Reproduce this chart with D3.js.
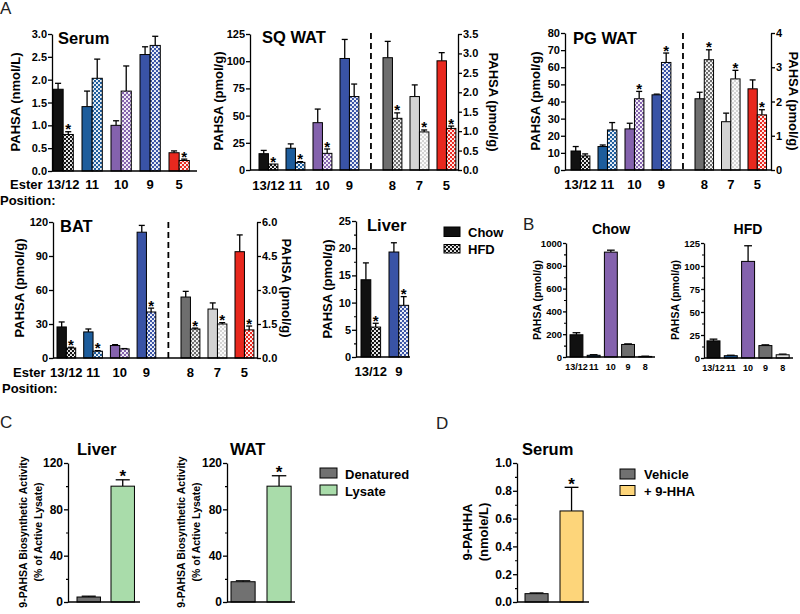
<!DOCTYPE html>
<html><head><meta charset="utf-8">
<script src="https://cdn.jsdelivr.net/npm/d3@7"></script>
<style>body{margin:0;background:#fff}svg{display:block}</style>
</head><body>
<svg id="chart" width="800" height="614"></svg>
<script>
// ---------------- DATA ----------------
const serumCats = ["13/12","11","10","9","5"];
const serumChow = [1.79, 1.41, 1.00, 2.55, 0.40];
const serumChowErr = [0.13, 0.34, 0.10, 0.17, 0.04];
const serumHfd = [0.80, 2.03, 1.75, 2.75, 0.23];
const serumHfdErr = [0.06, 0.42, 0.55, 0.20, 0.03];
const serumStars = [1,0,0,0,1];

const leftCats = ["13/12","11","10","9"];
const rightCats = ["8","7","5"];

const sqChowL = [15, 20, 43.5, 102.5];
const sqChowErrL = [3, 4, 12.5, 17.5];
const sqHfdL = [5.5, 7, 15.3, 67.5];
const sqHfdErrL = [0, 0.7, 4, 11.5];
const sqStarsL = [1,1,1,0];
const sqChowR = [2.89, 1.89, 2.81];
const sqChowErrR = [0.42, 0.30, 0.21];
const sqHfdR = [1.33, 0.98, 1.07];
const sqHfdErrR = [0.14, 0.05, 0.06];
const sqStarsR = [1,1,1];

const pgChowL = [11.1, 13.7, 24, 43.9];
const pgChowErrL = [2.6, 0.9, 3.3, 0.4];
const pgHfdL = [8.2, 23.4, 41.6, 62.8];
const pgHfdErrL = [1.2, 4.3, 4.3, 5.5];
const pgStarsL = [0,0,1,1];
const pgChowR = [2.08, 1.41, 2.37];
const pgChowErrR = [0.19, 0.25, 0.26];
const pgHfdR = [3.22, 2.66, 1.61];
const pgHfdErrR = [0.29, 0.25, 0.15];
const pgStarsR = [1,1,1];

const batChowL = [27.4, 23, 11, 111];
const batChowErrL = [4.4, 2.6, 0.8, 6];
const batHfdL = [8.8, 6, 8, 40.6];
const batHfdErrL = [0.7, 0.5, 0.3, 3.4];
const batStarsL = [1,1,0,1];
const batChowR = [2.69, 2.16, 4.69];
const batChowErrR = [0.25, 0.27, 0.74];
const batHfdR = [1.28, 1.50, 1.24];
const batHfdErrR = [0.04, 0.06, 0.17];
const batStarsR = [1,1,1];

const liverCats = ["13/12","9"];
const liverChow = [14.2, 19.3];
const liverChowErr = [3.1, 1.7];
const liverHfd = [5.5, 9.5];
const liverHfdErr = [0.7, 1.6];
const liverStars = [1,1];

const bCats = ["13/12","11","10","9","8"];
const bChow = [195, 15, 920, 110, 5];
const bChowErr = [18, 5, 17, 5, 2];
const bHfd = [18.6, 2.5, 105, 13.5, 3.5];
const bHfdErr = [1.9, 0.5, 17, 0.8, 0.7];
const bColors = ["#111111","#1d5d9c","#8462ad","#6e6e6e","#e2e2e2"];

const cCats = ["Denatured","Lysate"];
const cLiver = [4.3, 100];
const cLiverErr = [0.7, 5.5];
const cWat = [17.5, 100];
const cWatErr = [0.8, 9];
const cStars = [0,1];
const cColors = ["#717171","#a9dcaa"];

const dCats = ["Vehicle","+ 9-HHA"];
const dVals = [0.06, 0.655];
const dErr = [0.005, 0.17];
const dStars = [0,1];
const dColors = ["#717171","#fdd57a"];

const catColors = {"13/12":"#111111","11":"#1d5d9c","10":"#8462ad","9":"#3953a6","8":"#6e6e6e","7":"#d3d3d3","5":"#e8281e"};

// ---------------- SETUP ----------------
const FONT = "'Liberation Sans', Arial, Helvetica, sans-serif";
const svg = d3.select("#chart").attr("font-family", FONT);
svg.append("rect").attr("width",800).attr("height",614).attr("fill","#fff");
const defs = svg.append("defs");
const patIds = {};
Object.keys(catColors).forEach((k,i)=>{
  const id = "pat" + i; patIds[k] = id;
  const p = defs.append("pattern").attr("id",id).attr("patternUnits","userSpaceOnUse")
    .attr("width",4).attr("height",4);
  p.append("rect").attr("width",4).attr("height",4).attr("fill",catColors[k]);
  p.append("circle").attr("cx",1).attr("cy",1).attr("r",1.1).attr("fill","#fff");
  p.append("circle").attr("cx",3).attr("cy",3).attr("r",1.1).attr("fill","#fff");
});

function bandAt(domain, start, step, pi, po){
  const r0 = start - po*step;
  return d3.scaleBand().domain(domain).range([r0, r0 + step*(domain.length - pi + 2*po)])
    .paddingInner(pi).paddingOuter(po);
}
function styleAxis(a, fs){
  a.select(".domain").attr("stroke","#000").attr("stroke-width",1.3);
  a.selectAll(".tick line").attr("stroke","#000").attr("stroke-width",1.3);
  a.selectAll(".tick text").attr("fill","#000").attr("font-size",fs)
    .attr("font-weight","bold").attr("font-family",FONT);
}
function yAxis(x0, y, o){
  const mk = () => o.side==="right" ? d3.axisRight(y) : d3.axisLeft(y);
  if (o.minor !== undefined){
    const m = svg.append("g").attr("transform",`translate(${x0},0)`)
      .call(mk().tickValues(d3.range(o.minor, o.max, o.step)).tickSize(2).tickFormat(""));
    m.select(".domain").remove();
    m.selectAll("line").attr("stroke","#000").attr("stroke-width",1.1);
  }
  const a = svg.append("g").attr("transform",`translate(${x0},0)`)
    .call(mk().tickValues(d3.range(0, o.max + o.step/2, o.step)).tickFormat(o.fmt)
      .tickSize(o.ts || 4).tickSizeOuter(0).tickPadding(o.pad === undefined ? 1 : o.pad));
  styleAxis(a, o.fs);
}
function xLine(x0, x1, yv){
  svg.append("line").attr("x1",x0).attr("x2",x1).attr("y1",yv).attr("y2",yv)
    .attr("stroke","#000").attr("stroke-width",1.3);
}
function drawBars(rows, xf, bw, y, fillf, starSize){
  rows.forEach(r=>{
    const x0 = xf(r), cx = x0 + bw/2;
    if (r.e > 0){
      const cw = Math.max(6, bw*0.6);
      svg.append("line").attr("x1",cx).attr("x2",cx).attr("y1",y(r.v)).attr("y2",y(r.v+r.e))
        .attr("stroke","#000").attr("stroke-width",1.3);
      svg.append("line").attr("x1",cx-cw/2).attr("x2",cx+cw/2).attr("y1",y(r.v+r.e)).attr("y2",y(r.v+r.e))
        .attr("stroke","#000").attr("stroke-width",1.3);
    }
    svg.append("rect").attr("x",x0).attr("y",y(r.v)).attr("width",bw)
      .attr("height",y(0)-y(r.v)).attr("fill",fillf(r)).attr("stroke","#000").attr("stroke-width",1);
    if (r.s){
      svg.append("text").attr("x",cx).attr("y",y(r.v+r.e)+2.5).attr("text-anchor","middle")
        .attr("font-size",starSize||15).attr("font-weight","bold").text("*");
    }
  });
}
function drawPairs(x, y, cats, chow, chowErr, hfd, hfdErr, stars){
  const inner = d3.scaleBand().domain(["Chow","HFD"]).range([0, x.bandwidth()]);
  const rows = cats.flatMap((c,i)=>[
    {c, d:"Chow", v:chow[i], e:chowErr[i], s:0},
    {c, d:"HFD", v:hfd[i], e:hfdErr[i], s:stars[i]}]);
  drawBars(rows, r=>x(r.c)+inner(r.d), inner.bandwidth(), y,
    r=> r.d==="Chow" ? catColors[r.c] : `url(#${patIds[r.c]})`);
}
function catLabels(x, cats, yb, fs){
  cats.forEach(c=>{
    svg.append("text").attr("x", x(c)+x.bandwidth()/2).attr("y", yb).attr("text-anchor","middle")
      .attr("font-size",fs).attr("font-weight","bold").text(c);
  });
}
function text(x, y, s, fs, opts){
  opts = opts || {};
  return svg.append("text").attr("x",x).attr("y",y).attr("font-size",fs)
    .attr("font-weight", opts.weight || "bold").attr("text-anchor", opts.anchor || "start")
    .attr("fill", opts.fill || "#000").text(s);
}
function vLabel(cx, cy, lines, fs, rot, gap){
  const g = svg.append("g").attr("transform",`translate(${cx},${cy}) rotate(${rot})`);
  const n = lines.length;
  lines.forEach((s,i)=>{
    const off = (i - (n-1)/2) * gap * (rot < 0 ? 1 : -1);
    g.append("text").attr("x",0).attr("y", off).attr("dy","0.35em").attr("text-anchor","middle")
      .attr("font-size",fs).attr("font-weight","bold").text(s);
  });
}
function dashed(xv, y0, y1){
  svg.append("line").attr("x1",xv).attr("x2",xv).attr("y1",y0).attr("y2",y1)
    .attr("stroke","#000").attr("stroke-width",1.8).attr("stroke-dasharray","6,4");
}
const f1 = d3.format(".1f"), f0 = d3.format("d");

// ---------------- PANEL LETTERS ----------------
text(0, 14, "A", 17, {weight:"normal", fill:"#222"});
text(523, 230, "B", 17, {weight:"normal", fill:"#222"});
text(0, 428, "C", 17, {weight:"normal", fill:"#222"});
text(436, 429, "D", 17, {weight:"normal", fill:"#222"});

// ---------------- SERUM ----------------
{
  const y = d3.scaleLinear().domain([0,3]).range([171,34]);
  const x = bandAt(serumCats, 53, 29, 0.3, 0.15);
  drawPairs(x, y, serumCats, serumChow, serumChowErr, serumHfd, serumHfdErr, serumStars);
  xLine(52, 197, y(0));
  yAxis(52, y, {max:3, step:0.5, fmt:f1, fs:11});
  catLabels(x, serumCats, 189, 13);
  text(10, 189, "Ester", 13);
  text(0, 205, "Position:", 13);
  text(58, 44, "Serum", 16.5);
  vLabel(15, 102, ["PAHSA (nmol/L)"], 13, -90, 0);
}
// ---------------- SQ WAT ----------------
{
  const y = d3.scaleLinear().domain([0,125]).range([170,34]);
  const y2 = d3.scaleLinear().domain([0,3.5]).range([170,34]);
  const xl = bandAt(leftCats, 259, 27, 0.3, 0.15);
  const xr = bandAt(rightCats, 383, 27, 0.3, 0.15);
  drawPairs(xl, y, leftCats, sqChowL, sqChowErrL, sqHfdL, sqHfdErrL, sqStarsL);
  drawPairs(xr, y2, rightCats, sqChowR, sqChowErrR, sqHfdR, sqHfdErrR, sqStarsR);
  xLine(250, 458, y(0));
  yAxis(250, y, {max:125, step:25, fmt:f0, fs:11});
  yAxis(458, y2, {max:3.5, step:0.5, fmt:f1, fs:11, side:"right"});
  dashed((xl.range()[1] + xr.range()[0])/2, 33, 170);
  catLabels(xl, leftCats, 190, 13); catLabels(xr, rightCats, 190, 13);
  text(262, 43, "SQ WAT", 16.5);
  vLabel(218, 101, ["PAHSA (pmol/g)"], 13, -90, 0);
  vLabel(494, 102, ["PAHSA (pmol/g)"], 13, 90, 0);
}
// ---------------- PG WAT ----------------
{
  const y = d3.scaleLinear().domain([0,80]).range([170,33]);
  const y2 = d3.scaleLinear().domain([0,4]).range([170,33]);
  const xl = bandAt(leftCats, 571, 27, 0.3, 0.15);
  const xr = bandAt(rightCats, 695, 26.5, 0.3, 0.15);
  drawPairs(xl, y, leftCats, pgChowL, pgChowErrL, pgHfdL, pgHfdErrL, pgStarsL);
  drawPairs(xr, y2, rightCats, pgChowR, pgChowErrR, pgHfdR, pgHfdErrR, pgStarsR);
  xLine(565, 771, y(0));
  yAxis(565, y, {max:80, step:10, fmt:f0, fs:11});
  yAxis(771, y2, {max:4, step:1, fmt:f0, fs:11, side:"right"});
  dashed((xl.range()[1] + xr.range()[0])/2, 33, 170);
  catLabels(xl, leftCats, 189, 13); catLabels(xr, rightCats, 189, 13);
  text(573, 44, "PG WAT", 16.5);
  vLabel(535, 101, ["PAHSA (pmol/g)"], 13, -90, 0);
  vLabel(794, 101, ["PAHSA (pmol/g)"], 13, 90, 0);
}
// ---------------- BAT ----------------
{
  const y = d3.scaleLinear().domain([0,120]).range([358,222]);
  const y2 = d3.scaleLinear().domain([0,6]).range([358,222]);
  const xl = bandAt(leftCats, 57, 26.7, 0.3, 0.15);
  const xr = bandAt(rightCats, 181, 27, 0.3, 0.15);
  drawPairs(xl, y, leftCats, batChowL, batChowErrL, batHfdL, batHfdErrL, batStarsL);
  drawPairs(xr, y2, rightCats, batChowR, batChowErrR, batHfdR, batHfdErrR, batStarsR);
  xLine(53, 257, y(0));
  yAxis(53, y, {max:120, step:30, fmt:f0, fs:11});
  yAxis(257, y2, {max:6, step:1.5, fmt:f1, fs:11, side:"right"});
  dashed((xl.range()[1] + xr.range()[0])/2, 222, 358);
  catLabels(xl, leftCats, 377, 13); catLabels(xr, rightCats, 377, 13);
  text(13, 377, "Ester", 13);
  text(2, 393, "Position:", 13);
  text(60, 232, "BAT", 16.5);
  vLabel(19, 288, ["PAHSA (pmol/g)"], 13, -90, 0);
  vLabel(287, 288, ["PAHSA (pmol/g)"], 13, 90, 0);
}
// ---------------- LIVER (A) ----------------
{
  const y = d3.scaleLinear().domain([0,25]).range([357,221]);
  const x = bandAt(liverCats, 361, 28, 0.3, 0.15);
  drawPairs(x, y, liverCats, liverChow, liverChowErr, liverHfd, liverHfdErr, liverStars);
  xLine(356, 410, y(0));
  yAxis(356, y, {max:25, step:5, fmt:f0, fs:11, minor:2.5});
  catLabels(x, liverCats, 376, 13);
  text(367, 231, "Liver", 16.5);
  vLabel(327, 289, ["PAHSA (pmol/g)"], 13, -90, 0);
  // legend
  svg.append("rect").attr("x",444).attr("y",227).attr("width",16).attr("height",9.5).attr("fill",catColors["13/12"]).attr("stroke","#000");
  svg.append("rect").attr("x",444).attr("y",244.5).attr("width",16).attr("height",8.5).attr("fill",`url(#${patIds["13/12"]})`).attr("stroke","#000");
  text(468, 237, "Chow", 13);
  text(468, 254, "HFD", 13);
}
// ---------------- B ----------------
{
  const y = d3.scaleLinear().domain([0,1000]).range([357,243]);
  const x = bandAt(bCats, 570, 17.2, 0.25, 0.2);
  const rows = bCats.map((c,i)=>({c, i, v:bChow[i], e:bChowErr[i], s:0}));
  drawBars(rows, r=>x(r.c), x.bandwidth(), y, r=>bColors[r.i]);
  xLine(566, 655, y(0));
  yAxis(566, y, {max:1000, step:200, fmt:f0, fs:9.5, minor:100, ts:3});
  catLabels(x, bCats, 370, 9);
  text(611, 234, "Chow", 14, {anchor:"middle"});
  vLabel(537, 300, ["PAHSA (pmol/g)"], 10.5, -90, 0);

  const y2 = d3.scaleLinear().domain([0,125]).range([358,243]);
  const x2 = bandAt(bCats, 707, 17.3, 0.25, 0.2);
  const rows2 = bCats.map((c,i)=>({c, i, v:bHfd[i], e:bHfdErr[i], s:0}));
  drawBars(rows2, r=>x2(r.c), x2.bandwidth(), y2, r=>bColors[r.i]);
  xLine(704, 793, y2(0));
  yAxis(704, y2, {max:125, step:25, fmt:f0, fs:9.5, minor:12.5, ts:3});
  catLabels(x2, bCats, 371, 9);
  text(748, 234, "HFD", 14, {anchor:"middle"});
  vLabel(675, 300, ["PAHSA (pmol/g)"], 10.5, -90, 0);
}
// ---------------- C ----------------
{
  const y = d3.scaleLinear().domain([0,120]).range([602,463]);
  const xa = bandAt(cCats, 77, 34, 0.31, 0.26);
  drawBars(cCats.map((c,i)=>({c,i,v:cLiver[i],e:cLiverErr[i],s:cStars[i]})), r=>xa(r.c), xa.bandwidth(), y, r=>cColors[r.i], 17);
  xLine(68, 140, y(0));
  yAxis(68, y, {max:120, step:40, fmt:f0, fs:12, minor:20});
  text(77, 455, "Liver", 16.5);
  vLabel(31, 532, ["9-PAHSA Biosynthetic Activity","(% of Active Lysate)"], 10.5, -90, 15);

  const xb = bandAt(cCats, 231, 36, 0.33, 0.11);
  drawBars(cCats.map((c,i)=>({c,i,v:cWat[i],e:cWatErr[i],s:cStars[i]})), r=>xb(r.c), xb.bandwidth(), y, r=>cColors[r.i], 17);
  xLine(227, 295, y(0));
  yAxis(227, y, {max:120, step:40, fmt:f0, fs:12, minor:20});
  text(230, 455, "WAT", 16.5);
  vLabel(189, 532, ["9-PAHSA Biosynthetic Activity","(% of Active Lysate)"], 10.5, -90, 15);

  cCats.forEach((c,i)=>{
    svg.append("rect").attr("x",320).attr("y",468 + i*17).attr("width",17).attr("height",10)
      .attr("fill",cColors[i]).attr("stroke","#000").attr("stroke-width",1);
    text(345, 479 + i*17, c, 13);
  });
}
// ---------------- D ----------------
{
  const y = d3.scaleLinear().domain([0,1]).range([602,463]);
  const x = bandAt(dCats, 525, 35, 0.34, 0.23);
  drawBars(dCats.map((c,i)=>({c,i,v:dVals[i],e:dErr[i],s:dStars[i]})), r=>x(r.c), x.bandwidth(), y, r=>dColors[r.i], 17);
  xLine(517, 589, y(0));
  yAxis(517, y, {max:1, step:0.2, fmt:f1, fs:12, minor:0.1});
  text(522, 455, "Serum", 16.5);
  vLabel(475, 532, ["9-PAHHA","(nmole/L)"], 13, -90, 16);
  dCats.forEach((c,i)=>{
    svg.append("rect").attr("x",620).attr("y",469 + i*16.5).attr("width",15).attr("height",10)
      .attr("fill",dColors[i]).attr("stroke","#000").attr("stroke-width",1);
    text(644, 479 + i*16.5, c, 13);
  });
}
</script></body></html>
